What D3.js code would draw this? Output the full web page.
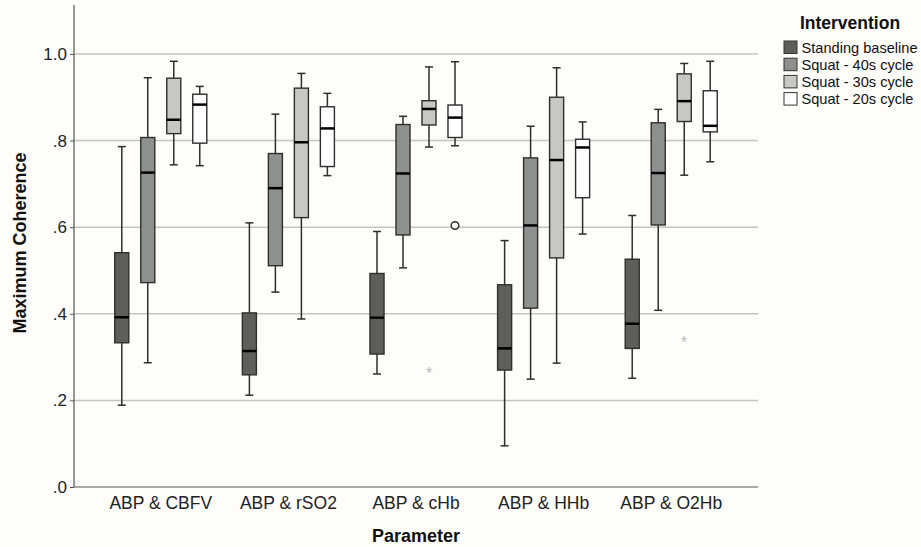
<!DOCTYPE html>
<html><head><meta charset="utf-8">
<script src="https://cdn.jsdelivr.net/npm/d3@7"></script>
<style>
body{margin:0;background:#fefdf9;}
svg{display:block;font-family:"Liberation Sans",Arial,sans-serif;}
</style></head><body>
<svg id="chart" width="921" height="547"></svg>
<script>
const categories = ["ABP & CBFV","ABP & rSO2","ABP & cHb","ABP & HHb","ABP & O2Hb"];
const series = ["Standing baseline","Squat - 40s cycle","Squat - 30s cycle","Squat - 20s cycle"];
const colors = ["#5e5e5a","#8d918e","#c7c7c3","#ffffff"];
const yTicks = [0,0.2,0.4,0.6,0.8,1.0];
const yTickLabels = [".0",".2",".4",".6",".8","1.0"];
// [whiskerLow, Q1, median, Q3, whiskerHigh] per category, per series
const standing = [[0.189,0.333,0.392,0.541,0.786],[0.212,0.259,0.314,0.402,0.610],[0.261,0.307,0.391,0.493,0.590],[0.095,0.270,0.320,0.467,0.569],[0.251,0.320,0.377,0.526,0.627]];
const squat40 = [[0.287,0.472,0.726,0.807,0.945],[0.450,0.511,0.690,0.770,0.861],[0.506,0.582,0.724,0.837,0.856],[0.249,0.413,0.604,0.760,0.833],[0.408,0.605,0.725,0.841,0.872]];
const squat30 = [[0.744,0.816,0.848,0.944,0.983],[0.388,0.622,0.796,0.921,0.955],[0.785,0.836,0.873,0.892,0.970],[0.286,0.529,0.755,0.900,0.968],[0.720,0.844,0.891,0.954,0.978]];
const squat20 = [[0.742,0.794,0.883,0.907,0.925],[0.719,0.740,0.828,0.878,0.909],[0.788,0.807,0.853,0.882,0.982],[0.584,0.668,0.784,0.803,0.843],[0.751,0.820,0.834,0.915,0.983]];
// outliers: [categoryIndex, seriesIndex, value, type]
const outliers = [[2,3,0.604,"circle"],[2,2,0.266,"star"],[4,2,0.338,"star"]];

const allStats = [standing, squat40, squat30, squat20];
const svg = d3.select("#chart");
const M = {left:74, right:758, top:5, bottom:487};
const y = d3.scaleLinear().domain([0,1.113]).range([M.bottom, M.top]);
const x0 = d3.scaleBand().domain(categories).range([M.left,M.right]).paddingInner(0).paddingOuter(0.18);
const x1 = d3.scaleBand().domain(series).range([-52,52]).paddingInner(0.46).paddingOuter(0.23);
const FONT = "Liberation Sans, Arial, sans-serif";

// gridlines
svg.append("g").selectAll("line").data(yTicks.filter(d=>d>0)).join("line")
  .attr("x1",M.left).attr("x2",M.right).attr("y1",d=>y(d)).attr("y2",d=>y(d))
  .attr("stroke","#c4c4c2").attr("stroke-width",1.5);

// y axis
const yAxis = d3.axisLeft(y).tickValues(yTicks).tickFormat((d,i)=>yTickLabels[i]).tickSize(4).tickPadding(3);
const gy = svg.append("g").attr("transform",`translate(${M.left},0)`).call(yAxis);
gy.select(".domain").remove();
gy.selectAll(".tick line").attr("stroke","#555");
gy.selectAll("text").attr("font-size",17).attr("fill","#222").attr("font-family",FONT);
svg.append("line").attr("x1",M.left).attr("x2",M.left).attr("y1",M.top).attr("y2",M.bottom).attr("stroke","#555").attr("stroke-width",1.2);
// x axis
const xAxis = d3.axisBottom(x0).tickSize(0).tickPadding(10);
const gx = svg.append("g").attr("transform",`translate(0,${M.bottom})`).call(xAxis);
gx.select(".domain").remove();
gx.selectAll("text").attr("font-size",17.5).attr("fill","#222").attr("font-family",FONT);
svg.append("line").attr("x1",M.left).attr("x2",M.right).attr("y1",M.bottom).attr("y2",M.bottom).attr("stroke","#555").attr("stroke-width",1.2);

// boxes
const bw = x1.bandwidth();
const stroke = "#2e2e2e";
series.forEach((s,si)=>{
  const g = svg.append("g");
  allStats[si].forEach((st,ci)=>{
    const cx = x0(categories[ci]) + x0.bandwidth()/2 + x1(s) + bw/2;
    const [lo,q1,med,q3,hi] = st;
    const gg = g.append("g");
    gg.append("line").attr("x1",cx).attr("x2",cx).attr("y1",y(hi)).attr("y2",y(q3)).attr("stroke",stroke).attr("stroke-width",1.5);
    gg.append("line").attr("x1",cx).attr("x2",cx).attr("y1",y(q1)).attr("y2",y(lo)).attr("stroke",stroke).attr("stroke-width",1.5);
    gg.append("line").attr("x1",cx-4).attr("x2",cx+4).attr("y1",y(hi)).attr("y2",y(hi)).attr("stroke",stroke).attr("stroke-width",1.5);
    gg.append("line").attr("x1",cx-4).attr("x2",cx+4).attr("y1",y(lo)).attr("y2",y(lo)).attr("stroke",stroke).attr("stroke-width",1.5);
    gg.append("rect").attr("x",cx-bw/2).attr("y",y(q3)).attr("width",bw).attr("height",y(q1)-y(q3))
      .attr("fill",colors[si]).attr("stroke",stroke).attr("stroke-width",1.4);
    gg.append("line").attr("x1",cx-bw/2).attr("x2",cx+bw/2).attr("y1",y(med)).attr("y2",y(med)).attr("stroke","#000").attr("stroke-width",2.5);
  });
});

// outliers
outliers.forEach(([ci,si,v,t])=>{
  const cx = x0(categories[ci]) + x0.bandwidth()/2 + x1(series[si]) + bw/2;
  if(t==="circle"){
    svg.append("circle").attr("cx",cx).attr("cy",y(v)).attr("r",3.8).attr("fill","#fff").attr("stroke",stroke).attr("stroke-width",1.5);
  } else {
    svg.append("text").attr("x",cx).attr("y",y(v)+7).attr("text-anchor","middle").attr("font-size",16)
      .attr("fill","#bdbdbd").text("*");
  }
});

// axis titles
svg.append("text").attr("transform",`translate(26,243) rotate(-90)`).attr("text-anchor","middle")
  .attr("font-size",18).attr("font-weight","bold").attr("fill","#111").attr("font-family",FONT).text("Maximum Coherence");
svg.append("text").attr("x",416).attr("y",542).attr("text-anchor","middle")
  .attr("font-size",18).attr("font-weight","bold").attr("fill","#111").attr("font-family",FONT).text("Parameter");

// legend
const lg = svg.append("g");
lg.append("text").attr("x",850).attr("y",28.5).attr("text-anchor","middle").attr("font-size",17.5).attr("font-weight","bold").attr("fill","#111").attr("font-family",FONT).text("Intervention");
series.forEach((s,i)=>{
  const yy = 41 + i*17.2;
  lg.append("rect").attr("x",784).attr("y",yy).attr("width",13).attr("height",12.5).attr("fill",colors[i]).attr("stroke","#333").attr("stroke-width",1);
  lg.append("text").attr("x",801.5).attr("y",yy+11.5).attr("font-size",14.6).attr("fill","#111").attr("font-family",FONT).text(s);
});
</script>
</body></html>
